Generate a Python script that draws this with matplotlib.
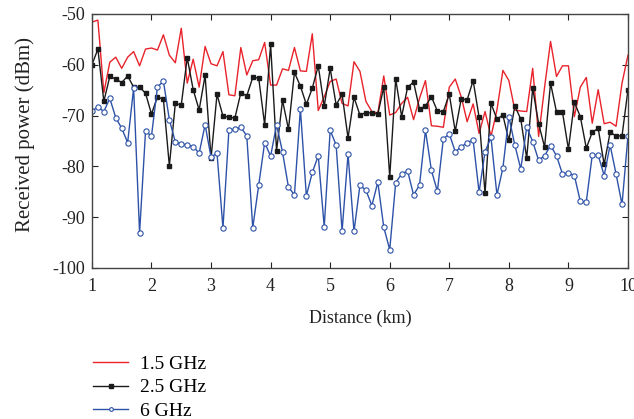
import numpy as np
import matplotlib.pyplot as plt

plt.rcParams['font.family'] = ['Liberation Serif', 'DejaVu Serif']
plt.rcParams['axes.unicode_minus'] = False

# distance grid, 0.1 km step
distance = np.round(np.arange(1.0, 10.01, 0.1), 1)

# received power (dBm)
p_15ghz = [
    -51.6, -51.2, -65.5, -59.5, -58.5, -60.7, -58.5, -57.4, -60.2, -56.9,
    -56.7, -57.1, -54.1, -58.1, -59.6, -52.8, -63.6, -58.9, -64.4, -56.4,
    -59.8, -60.2, -57.4, -65.9, -66.1, -56.6, -62.0, -59.2, -59.0, -55.6,
    -64.0, -64.0, -60.8, -61.1, -56.6, -61.2, -61.3, -53.9, -69.0, -66.3,
    -63.3, -62.8, -67.6, -68.1, -59.4, -61.3, -67.2, -69.2, -69.5, -62.2,
    -69.9, -69.4, -67.6, -66.4, -70.8, -66.6, -63.1, -72.0, -72.1, -72.3,
    -64.4, -62.8, -66.3, -71.2, -67.7, -73.5, -69.2, -74.1, -68.9, -61.1,
    -63.1, -68.9, -69.1, -69.2, -60.7, -74.1, -64.4, -55.4, -62.3, -60.2,
    -60.2, -70.2, -64.4, -62.5, -71.5, -64.9, -71.6, -71.3, -72.1, -63.6,
    -58.1,
]
p_25ghz = [
    -60.0, -56.9, -67.2, -62.3, -62.8, -63.5, -62.2, -64.4, -64.4, -65.6,
    -69.7, -66.3, -66.8, -79.9, -67.6, -67.9, -58.6, -64.9, -68.9, -62.1,
    -78.4, -65.8, -70.1, -70.3, -70.5, -65.5, -66.1, -62.5, -62.6, -71.8,
    -56.0, -76.9, -67.0, -72.7, -61.5, -64.2, -67.8, -64.6, -60.2, -68.2,
    -60.7, -67.9, -65.8, -74.4, -66.4, -69.9, -69.4, -69.5, -69.7, -64.4,
    -82.1, -62.8, -70.2, -64.4, -63.4, -68.7, -68.1, -66.3, -69.1, -69.2,
    -65.8, -73.1, -66.7, -66.9, -63.1, -70.3, -85.3, -67.6, -70.7, -69.9,
    -74.9, -68.1, -70.7, -78.4, -64.6, -71.6, -76.2, -63.6, -69.3, -69.3,
    -76.6, -67.4, -70.2, -76.4, -73.3, -72.5, -79.6, -73.3, -74.0, -74.0,
    -64.9,
]
p_6ghz = [
    -69.1, -68.3, -69.2, -66.6, -70.4, -72.5, -75.3, -64.6, -93.1, -73.1,
    -74.0, -64.4, -63.2, -70.8, -75.2, -75.6, -75.8, -76.1, -77.4, -71.8,
    -78.2, -77.4, -92.1, -72.8, -72.7, -72.3, -74.0, -92.1, -83.7, -75.3,
    -78.0, -71.8, -77.2, -84.1, -85.6, -68.7, -85.8, -81.2, -77.9, -91.9,
    -72.9, -75.8, -92.7, -77.6, -92.8, -83.7, -84.7, -87.7, -83.1, -92.0,
    -96.4, -83.2, -81.5, -80.9, -85.6, -83.7, -72.9, -80.8, -84.9, -74.6,
    -73.6, -77.1, -76.2, -75.3, -74.8, -85.1, -77.1, -74.3, -85.6, -80.3,
    -70.2, -75.8, -80.5, -72.3, -75.1, -78.8, -77.9, -75.9, -77.9, -81.5,
    -81.3, -81.8, -86.9, -87.0, -77.8, -77.8, -81.8, -75.8, -81.5, -87.5,
    -74.0,
]

x_ticks = [1, 2, 3, 4, 5, 6, 7, 8, 9, 10]
y_ticks = [-100, -90, -80, -70, -60, -50]

fig = plt.figure(figsize=(6.34, 4.19), dpi=100)
ax = fig.add_axes([0.145, 0.3604, 0.8455, 0.6062])

ax.plot(distance, p_15ghz, color='#e8232b', lw=1.0, label='1.5 GHz')
ax.plot(distance, p_25ghz, color='#1a1a1a', lw=1.0, marker='s', ms=3.2,
        label='2.5 GHz')
ax.plot(distance, p_6ghz, color='#2d52a8', lw=1.0, marker='o', ms=3.8,
        mfc='white', mec='#2d52a8', mew=0.8, label='6 GHz')

ax.set_xlim(1, 10)
ax.set_ylim(-100, -50)
ax.set_xticks(x_ticks)
ax.set_yticks(y_ticks)
ax.tick_params(direction='in', top=True, right=True, length=4, width=0.8,
               labelsize=13, colors='#222222')
ax.tick_params(axis='x', pad=7)
ax.tick_params(axis='y', pad=5)
for sp in ax.spines.values():
    sp.set_color('#444444')
    sp.set_linewidth(1.0)

ax.set_xlabel('Distance (km)', fontsize=13, color='#222222', labelpad=11)
ax.set_ylabel('Received power (dBm)', fontsize=15, color='#222222')
ax.yaxis.set_label_coords(-0.106, 0.525)

fig.legend(loc='upper left', bbox_to_anchor=(0.1467, 0.153), frameon=False,
           fontsize=14, handlelength=1.8, handletextpad=0.6, labelspacing=0.32,
           numpoints=1, markerscale=0.7, borderpad=0, borderaxespad=0)

fig.savefig('out.png', dpi=100)
